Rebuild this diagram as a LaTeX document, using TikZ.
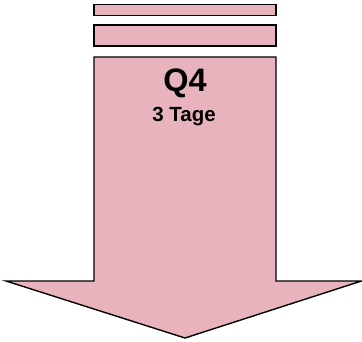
\documentclass[tikz,border=0pt]{standalone}
\usepackage{fontspec}
\setmainfont{Liberation Sans}
\definecolor{pinkfill}{RGB}{233,179,190}
\begin{document}
\begin{tikzpicture}[x=1pt,y=-1pt,
  shapeline/.style={draw=black,line width=1.4pt,fill=pinkfill,line join=miter},
  bigtext/.style={font=\bfseries\fontsize{32.5}{32.5}\selectfont,inner sep=0pt,anchor=base},
  smalltext/.style={font=\bfseries\fontsize{20.5}{20.5}\selectfont,inner sep=0pt,anchor=base}]
\useasboundingbox (0,0) rectangle (362,341);
\draw[shapeline] (94,4.7) rectangle (276,15.3);
\draw[shapeline] (94,25) rectangle (276,46);
\draw[shapeline] (94,57) -- (276,57) -- (276,281) -- (361.5,281) -- (185,338) -- (6,281) -- (94,281) -- cycle;
\node[bigtext] (q) at (185,91.5) {Q4};
\node[smalltext] (t) at (184,121) {3 Tage};
\end{tikzpicture}
\end{document}
